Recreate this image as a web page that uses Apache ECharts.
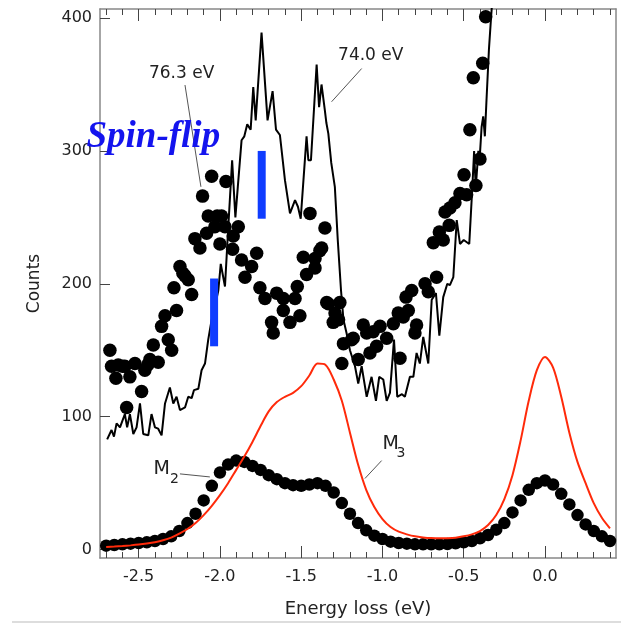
<!DOCTYPE html>
<html><head><meta charset="utf-8">
<script src="https://cdn.jsdelivr.net/npm/echarts@6/dist/echarts.min.js"></script>
<style>html,body{margin:0;padding:0;background:#fff}#c{width:621px;height:623px}</style>
</head><body><div id="c"></div>
<script>
// ---- data ----
const xMajorTicks = [-2.5, -2.0, -1.5, -1.0, -0.5, 0.0];
const xMinorTicks = [-2.7,-2.6,-2.5,-2.4,-2.3,-2.2,-2.1,-2.0,-1.9,-1.8,-1.7,-1.6,-1.5,-1.4,-1.3,-1.2,-1.1,-1.0,-0.9,-0.8,-0.7,-0.6,-0.5,-0.4,-0.3,-0.2,-0.1,0.0,0.1,0.2,0.3,0.4];
const yTicks = [0, 100, 200, 300, 400];

const calcEnergy = [-2.70,-2.65,-2.60,-2.55,-2.50,-2.45,-2.40,-2.35,-2.30,-2.25,-2.20,-2.15,-2.10,-2.05,-2.00,-1.95,-1.90,-1.85,-1.80,-1.75,-1.70,-1.65,-1.60,-1.55,-1.50,-1.45,-1.40,-1.35,-1.30,-1.25,-1.20,-1.15,-1.10,-1.05,-1.00,-0.95,-0.90,-0.85,-0.80,-0.75,-0.70,-0.65,-0.60,-0.55,-0.50,-0.45,-0.40,-0.35,-0.30,-0.25,-0.20,-0.15,-0.10,-0.05,0.00,0.05,0.10,0.15,0.20,0.25,0.30,0.35,0.40];
const m2Counts = [3,3.5,4,4.5,5,5.5,6.5,8,10,14,20,27,37,48,58,64,67,66,63,60,56,53,50,48.5,48,49,50,48,43,35,27,20,14.5,10.5,8,6,5,4.5,4,4,4,4,4.2,4.8,5.5,6.5,8.5,11,15,20,28,37,45,50,52,49,42,34,26,19,14,10,6.5];
const m3Counts = [2,2.3,2.7,3.2,3.8,4.6,5.6,7,9,12,15.5,20,26,33,41,50,60,70,81,93,104,111,115,118,123,131,140,139,128,112,88,64,45,32,23,17,13.5,11.5,10,9.2,8.7,8.5,8.6,9,10,11.5,14,18.5,26,38,56,82,112,135,145,137,115,88,66,50,35,24,16];

const measuredLine = [[-2.694,83],[-2.667,90],[-2.652,85],[-2.636,95],[-2.615,92],[-2.585,102],[-2.571,92],[-2.554,102],[-2.533,87],[-2.513,92],[-2.492,110],[-2.472,87],[-2.441,86],[-2.421,102],[-2.40,92],[-2.38,91],[-2.359,86],[-2.338,110],[-2.308,122],[-2.287,110],[-2.267,115],[-2.246,105],[-2.215,107],[-2.195,115],[-2.174,114],[-2.16,120],[-2.133,121],[-2.113,135],[-2.092,140],[-2.072,158],[-2.051,173],[-2.031,183],[-2.01,195],[-1.995,215],[-1.969,198],[-1.95,240],[-1.925,293],[-1.905,250],[-1.89,273],[-1.867,308],[-1.85,311],[-1.832,320],[-1.811,316],[-1.795,348],[-1.78,323],[-1.744,389],[-1.707,323],[-1.676,345],[-1.655,316],[-1.631,312],[-1.60,278],[-1.569,253],[-1.538,263],[-1.52,258],[-1.503,249],[-1.467,311],[-1.456,293],[-1.44,293],[-1.405,365],[-1.39,333],[-1.375,350],[-1.355,331],[-1.345,321],[-1.333,313],[-1.315,291],[-1.293,273],[-1.275,233],[-1.255,195],[-1.24,173],[-1.221,163],[-1.2,150],[-1.169,138],[-1.149,125],[-1.128,138],[-1.097,115],[-1.067,130],[-1.04,112],[-1.02,130],[-0.995,128],[-0.974,112],[-0.954,118],[-0.929,158],[-0.909,115],[-0.88,117],[-0.862,115],[-0.831,130],[-0.81,130],[-0.79,148],[-0.77,140],[-0.749,160],[-0.718,140],[-0.697,188],[-0.671,193],[-0.65,161],[-0.626,190],[-0.601,200],[-0.585,199],[-0.564,205],[-0.543,248],[-0.523,230],[-0.50,233],[-0.466,230],[-0.446,275],[-0.436,300],[-0.426,272],[-0.41,300],[-0.40,298],[-0.39,318],[-0.38,326],[-0.37,311],[-0.36,338],[-0.345,376],[-0.332,400],[-0.325,412]];

const measuredDots = [[-2.677,150],[-2.667,138],[-2.64,129],[-2.626,139],[-2.60,138],[-2.585,138],[-2.554,130],[-2.523,140],[-2.574,107],[-2.482,119],[-2.462,135],[-2.445,139],[-2.431,143],[-2.41,154],[-2.38,141],[-2.359,168],[-2.338,176],[-2.318,158],[-2.297,150],[-2.267,180],[-2.283,197],[-2.246,213],[-2.228,208],[-2.215,206],[-2.195,203],[-2.174,192],[-2.154,234],[-2.123,227],[-2.107,266],[-2.082,238],[-2.072,251],[-2.051,281],[-2.031,243],[-2.017,251],[-2.0,230],[-1.99,251],[-1.969,243],[-1.963,277],[-1.922,226],[-1.918,236],[-1.887,243],[-1.867,218],[-1.846,205],[-1.805,213],[-1.774,223],[-1.754,197],[-1.723,189],[-1.682,171],[-1.672,163],[-1.651,193],[-1.61,189],[-1.61,180],[-1.569,171],[-1.538,189],[-1.524,198],[-1.508,176],[-1.467,207],[-1.487,220],[-1.446,253],[-1.415,219],[-1.415,212],[-1.385,225],[-1.374,227],[-1.354,242],[-1.343,186],[-1.333,185],[-1.303,171],[-1.292,178],[-1.262,186],[-1.27,173],[-1.24,155],[-1.25,140],[-1.19,158],[-1.18,159],[-1.149,143],[-1.118,169],[-1.097,163],[-1.077,148],[-1.057,164],[-1.036,153],[-1.015,168],[-0.974,159],[-0.933,170],[-0.903,178],[-0.892,144],[-0.872,175],[-0.855,190],[-0.841,180],[-0.82,195],[-0.80,163],[-0.79,169],[-0.738,200],[-0.718,194],[-0.687,231],[-0.667,205],[-0.65,239],[-0.626,233],[-0.615,254],[-0.589,244],[-0.585,257],[-0.554,261],[-0.523,268],[-0.498,282],[-0.482,267],[-0.425,274],[-0.40,294],[-0.462,316],[-0.441,355],[-0.383,366],[-0.365,401]];

// spin-flip markers: [energy, countLow, countHigh]
const spinFlipBars = [[-2.036,153,204],[-1.743,249,300]];

// annotation arrows [from, to] in data coords
const arrows = [[[-2.215,349.6],[-2.117,273]],[[-1.128,362],[-1.313,337]],[[-2.246,57],[-2.062,54.7]],[[-1.005,67],[-1.108,53.5]]];
const labels = [
  {text:'76.3 eV', at:[-2.236,358.4], size:17},
  {text:'74.0 eV', at:[-1.072,371.6], size:17},
  {text:'M', at:[-2.359,60.3], size:19},
  {text:'2', at:[-2.28,53.2], size:14},
  {text:'M', at:[-0.949,79.1], size:19},
  {text:'3', at:[-0.886,72.4], size:14}
];
const spinLabel = {text:'Spin-flip', at:[-2.41,310]};

// ---- chart ----
const X0 = -2.738, X1 = 0.437, Y0 = -6.3, Y1 = 406.8;
const FONT = 'DejaVu Sans';
const axisLineStyle = {color:'#888', width:1.5};
const tickStyle = {color:'#444', width:1};

const chart = echarts.init(document.getElementById('c'), null, {renderer:'canvas'});
const baseX = {type:'value', min:X0, max:X1, splitLine:{show:false}};
const option = {
  animation:false,
  backgroundColor:'#fff',
  grid:{left:100, top:9, width:516, height:549, containLabel:false, outerBoundsMode:'none'},
  xAxis:[
    Object.assign({}, baseX, {position:'bottom',
      axisLine:{show:true, onZero:false, lineStyle:axisLineStyle},
      axisTick:{show:true, inside:true, length:12, lineStyle:tickStyle, customValues:xMajorTicks},
      axisLabel:{show:true, customValues:xMajorTicks, formatter:v=>Number(v).toFixed(1), margin:11, fontSize:16, fontFamily:FONT, color:'#222'},
      name:'Energy loss (eV)', nameLocation:'middle', nameGap:42, nameTextStyle:{fontSize:18, fontFamily:FONT, color:'#222'}}),
    Object.assign({}, baseX, {position:'bottom',
      axisLine:{show:false, onZero:false},
      axisTick:{show:true, inside:true, length:6, lineStyle:tickStyle, customValues:xMinorTicks},
      axisLabel:{show:false}}),
    Object.assign({}, baseX, {position:'top',
      axisLine:{show:true, onZero:false, lineStyle:axisLineStyle},
      axisTick:{show:true, inside:true, length:12, lineStyle:tickStyle, customValues:xMajorTicks},
      axisLabel:{show:false}}),
    Object.assign({}, baseX, {position:'top',
      axisLine:{show:false, onZero:false},
      axisTick:{show:true, inside:true, length:6, lineStyle:tickStyle, customValues:xMinorTicks},
      axisLabel:{show:false}})
  ],
  yAxis:[
    {type:'value', position:'left', min:Y0, max:Y1, splitLine:{show:false},
      axisLine:{show:true, onZero:false, lineStyle:axisLineStyle},
      axisTick:{show:true, inside:true, length:10, lineStyle:tickStyle, customValues:yTicks},
      axisLabel:{show:true, customValues:yTicks, margin:8, fontSize:16, fontFamily:FONT, color:'#222'},
      name:'Counts', nameLocation:'middle', nameGap:57, nameRotate:90, nameTextStyle:{fontSize:17, fontFamily:FONT, color:'#222'}},
    {type:'value', position:'right', min:Y0, max:Y1, splitLine:{show:false},
      axisLine:{show:true, onZero:false, lineStyle:axisLineStyle},
      axisTick:{show:false}, axisLabel:{show:false}}
  ],
  series:[
    {type:'scatter', name:'measured', data:measuredDots, symbol:'circle', symbolSize:13.5, itemStyle:{color:'#000', opacity:1}, z:2},
    {type:'line', name:'line', data:measuredLine, symbol:'none', lineStyle:{color:'#000', width:2}, z:3},
    {type:'scatter', name:'M2', data:calcEnergy.map((e,i)=>[e,m2Counts[i]]), symbol:'circle', symbolSize:12.5, itemStyle:{color:'#000', opacity:1}, z:4},
    {type:'line', name:'M3', data:calcEnergy.map((e,i)=>[e,m3Counts[i]]), symbol:'none', smooth:0.3, lineStyle:{color:'#ff2a0a', width:2}, z:5,
      markLine:{silent:true, animation:false, symbol:['none','arrow'], symbolSize:[0,9],
        label:{show:false}, lineStyle:{color:'#555', width:1, type:'solid'},
        emphasis:{disabled:true},
        data:arrows.map(a=>[{coord:a[0]},{coord:a[1]}])}}
  ].concat(spinFlipBars.map(b=>({type:'line', data:[[b[0],b[1]],[b[0],b[2]]], symbol:'none', lineStyle:{color:'#0f3cff', width:8, cap:'butt'}, z:6})))
};
chart.setOption(option);

const graphics = labels.map(l=>{
  const p = chart.convertToPixel({xAxisIndex:0, yAxisIndex:0}, l.at);
  return {type:'text', x:p[0], y:p[1], z:100, style:{text:l.text, fontSize:l.size, fontFamily:FONT, fill:'#222', align:'center', verticalAlign:'middle'}};
});
const sp = chart.convertToPixel({xAxisIndex:0, yAxisIndex:0}, spinLabel.at);
graphics.push({type:'text', x:sp[0], y:sp[1], z:100, style:{text:spinLabel.text, fontSize:37, fontWeight:'bold', fontStyle:'italic', fontFamily:'Liberation Serif', fill:'#1414ee', align:'center', verticalAlign:'middle'}});
graphics.push({type:'rect', shape:{x:12, y:621, width:609, height:2}, style:{fill:'#ddd'}, z:1});
chart.setOption({graphic:graphics});
</script>
</body></html>
